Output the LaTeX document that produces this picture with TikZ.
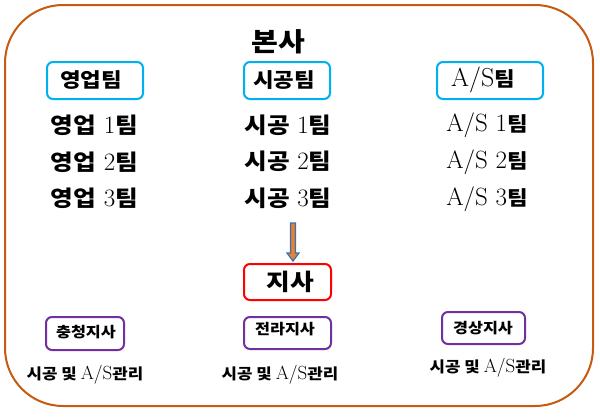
\documentclass[tikz,border=0pt]{standalone}
\usepackage{fontspec}
\usetikzlibrary{calc}
\newfontfamily\kr[FakeStretch=1.12]{Noto Sans CJK KR}
\definecolor{outerc}{HTML}{C55A11}
\definecolor{teamc}{HTML}{00B0F0}
\definecolor{purp}{HTML}{7030A0}
\definecolor{arrfill}{HTML}{ED7D31}
\definecolor{arrline}{HTML}{2E75B6}
\newcommand{\K}[1]{{\kr\bfseries #1}}
\tikzset{
  teambox/.style={draw=teamc, line width=2pt, rounded corners=6pt, inner sep=0pt},
  redbox/.style={draw=red, line width=2pt, rounded corners=6pt, inner sep=0pt},
  purpbox/.style={draw=purp, line width=2pt, rounded corners=6pt, inner sep=0pt},
  rowtxt/.style={inner sep=0pt, font=\fontsize{25}{28}\selectfont},
  smalltxt/.style={inner sep=0pt, font=\fontsize{19}{22}\selectfont},
}
\begin{document}
\begin{tikzpicture}[x=1pt,y=-1pt]
\useasboundingbox (0,0) rectangle (600,418);
\draw[outerc, line width=2pt, rounded corners=58pt] (5,5) rectangle (593,406);

\node[inner sep=0pt, font=\fontsize{26}{30}\selectfont] (bonsa) at (278,42) {\K{본사}};

% team header boxes
\node[teambox, minimum width=96pt, minimum height=37pt] (b1) at (95,80.5) {};
\node[inner sep=0pt, font=\fontsize{20}{24}\selectfont] (t1) at (91,80) {\K{영업팀}};
\node[teambox, minimum width=86pt, minimum height=37pt] (b2) at (287,80.5) {};
\node[inner sep=0pt, font=\fontsize{20}{24}\selectfont] (t2) at (284,80) {\K{시공팀}};
\node[teambox, minimum width=106pt, minimum height=37pt] (b3) at (490,80.5) {};
\node[inner sep=0pt, font=\fontsize{26}{30}\selectfont] (t3) at (483,80) {A/S\K{\fontsize{20}{24}\selectfont 팀}};

% rows
\node[rowtxt] (r11) at (94.5,125) {\K{\fontsize{22}{26}\selectfont 영업} 1\K{\fontsize{22}{26}\selectfont 팀}};
\node[rowtxt] (r12) at (94.5,162) {\K{\fontsize{22}{26}\selectfont 영업} 2\K{\fontsize{22}{26}\selectfont 팀}};
\node[rowtxt] (r13) at (94.5,198) {\K{\fontsize{22}{26}\selectfont 영업} 3\K{\fontsize{22}{26}\selectfont 팀}};
\node[rowtxt] (r21) at (288,125) {\K{\fontsize{22}{26}\selectfont 시공} 1\K{\fontsize{22}{26}\selectfont 팀}};
\node[rowtxt] (r22) at (288,161) {\K{\fontsize{22}{26}\selectfont 시공} 2\K{\fontsize{22}{26}\selectfont 팀}};
\node[rowtxt] (r23) at (288,198) {\K{\fontsize{22}{26}\selectfont 시공} 3\K{\fontsize{22}{26}\selectfont 팀}};
\node[rowtxt] (r31) at (487,125) {A/S 1\K{\fontsize{20}{24}\selectfont 팀}};
\node[rowtxt] (r32) at (487,162) {A/S 2\K{\fontsize{20}{24}\selectfont 팀}};
\node[rowtxt] (r33) at (487,199) {A/S 3\K{\fontsize{20}{24}\selectfont 팀}};

% arrow
\coordinate (atop) at (293,223);
\filldraw[fill=arrfill, draw=arrline, line width=1.2pt, line join=miter]
  ($(atop)+(-2.5,0)$) -- ($(atop)+(2.5,0)$) -- ($(atop)+(2.5,30)$) -- ($(atop)+(6,30)$)
  -- ($(atop)+(0,38)$) -- ($(atop)+(-6,30)$) -- ($(atop)+(-2.5,30)$) -- cycle;

% branch box
\node[redbox, minimum width=87pt, minimum height=36pt] (jisa) at (287.5,282) {};
\node[inner sep=0pt, font=\fontsize{23}{27}\selectfont] (jisat) at (290,282) {\K{지사}};

% regional boxes
\node[purpbox, minimum width=78pt, minimum height=33pt] (p1) at (85,333.5) {};
\node[inner sep=0pt, font=\fontsize{14.5}{17}\selectfont] (p1t) at (86,332) {\K{충청지사}};
\node[purpbox, minimum width=87pt, minimum height=32pt] (p2) at (287.5,333) {};
\node[inner sep=0pt, font=\fontsize{14.5}{17}\selectfont] (p2t) at (285,329) {\K{전라지사}};
\node[purpbox, minimum width=83pt, minimum height=32pt] (p3) at (483.5,328) {};
\node[inner sep=0pt, font=\fontsize{14.5}{17}\selectfont] (p3t) at (483,328) {\K{경상지사}};

% bottom text
\node[smalltxt] (m1) at (85,375) {\K{\fontsize{15}{18}\selectfont 시공 및 }A/S\K{\fontsize{15}{18}\selectfont 관리}};
\node[smalltxt] (m2) at (280,375) {\K{\fontsize{15}{18}\selectfont 시공 및 }A/S\K{\fontsize{15}{18}\selectfont 관리}};
\node[smalltxt] (m3) at (488,368) {\K{\fontsize{15}{18}\selectfont 시공 및 }A/S\K{\fontsize{15}{18}\selectfont 관리}};
\end{tikzpicture}
\end{document}
